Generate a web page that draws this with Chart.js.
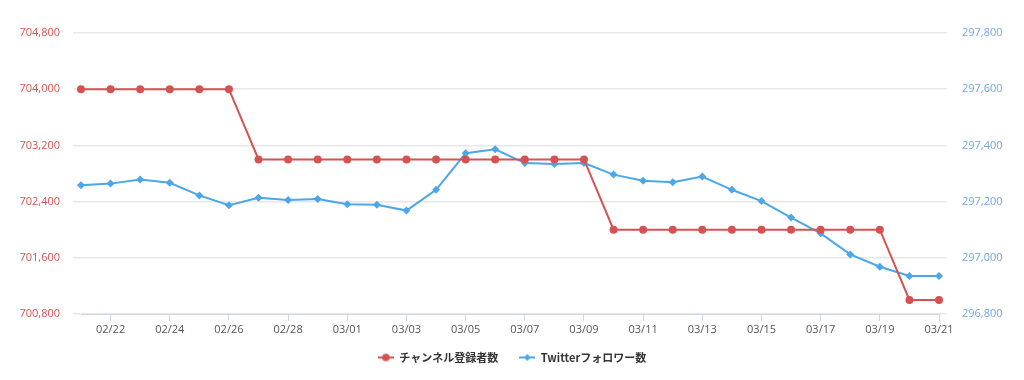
<!DOCTYPE html>
<html>
<head>
<meta charset="utf-8">
<script src="https://cdn.jsdelivr.net/npm/chart.js@4/dist/chart.umd.min.js"></script>
<style>
  html, body { margin: 0; padding: 0; background: #fff; }
  #wrap { width: 1024px; height: 380px; }
</style>
</head>
<body>
<div id="wrap"><canvas id="subsChart"></canvas></div>
<script>
// dates 02/21 - 03/21 (leap year)
const labels = [
    '02/21','02/22','02/23','02/24','02/25','02/26','02/27','02/28','02/29',
    '03/01','03/02','03/03','03/04','03/05','03/06','03/07','03/08','03/09','03/10',
    '03/11','03/12','03/13','03/14','03/15','03/16','03/17','03/18','03/19','03/20','03/21'
];

// channel subscribers (left axis)
const subscribers = [
    704000, 704000, 704000, 704000, 704000, 704000,
    703000, 703000, 703000, 703000, 703000, 703000,
    703000, 703000, 703000, 703000, 703000, 703000,
    702000, 702000, 702000, 702000, 702000, 702000,
    702000, 702000, 702000, 702000,
    701000, 701000
];

// twitter followers (right axis)
const followers = [
    297258, 297264, 297279, 297267, 297222, 297187, 297214, 297206, 297209, 297191,
    297189, 297168, 297242, 297372, 297386, 297337, 297334, 297337, 297296, 297274,
    297269, 297289, 297242, 297202, 297143, 297087, 297012, 296968, 296935, 296935
];

const leftTicks = [700800, 701600, 702400, 703200, 704000, 704800];
const rightTicks = [296800, 297000, 297200, 297400, 297600, 297800];

const RED = '#d65252';
const BLUE = '#4ba6ea';

// legend symbol: short line with marker in the middle
function legendSymbol(color, diamond) {
    const c = document.createElement('canvas');
    c.width = 16; c.height = 10;
    const g = c.getContext('2d');
    g.strokeStyle = color;
    g.lineWidth = 2;
    g.beginPath(); g.moveTo(0, 5); g.lineTo(16, 5); g.stroke();
    g.fillStyle = color;
    g.beginPath();
    if (diamond) {
        g.moveTo(8, 1.5); g.lineTo(11.5, 5); g.lineTo(8, 8.5); g.lineTo(4.5, 5);
    } else {
        g.arc(8, 5, 3.8, 0, Math.PI * 2);
    }
    g.fill();
    return c;
}

const fmt = v => v.toLocaleString('en-US');

const ctx = document.getElementById('subsChart').getContext('2d');
const chart = new Chart(ctx, {
    type: 'line',
    data: {
        labels: labels,
        datasets: [
            {
                label: 'チャンネル登録者数',
                data: subscribers,
                yAxisID: 'y',
                borderColor: RED,
                backgroundColor: RED,
                borderWidth: 2,
                pointStyle: 'circle',
                pointRadius: 4,
                pointBorderWidth: 0,
                pointHoverRadius: 4,
                tension: 0,
                fill: false
            },
            {
                label: 'Twitterフォロワー数',
                data: followers,
                yAxisID: 'y1',
                borderColor: BLUE,
                backgroundColor: BLUE,
                borderWidth: 2,
                pointStyle: 'rectRot',
                pointRadius: 4,
                pointBorderWidth: 0,
                pointHoverRadius: 4,
                tension: 0,
                fill: false
            }
        ]
    },
    options: {
        responsive: true,
        maintainAspectRatio: false,
        animation: false,
        layout: {
            padding: { top: 33, left: 0, right: 0, bottom: 7 }
        },
        scales: {
            x: {
                offset: false,
                border: { display: true, color: '#ccd6eb', width: 1 },
                grid: {
                    drawOnChartArea: false,
                    drawTicks: true,
                    tickLength: 7,
                    color: c => (c.index % 2 === 1 ? '#ccd6eb' : 'rgba(0,0,0,0)')
                },
                ticks: {
                    autoSkip: false,
                    maxRotation: 0,
                    padding: 2,
                    color: '#555',
                    font: { family: 'Open Sans', size: 11 },
                    callback: function (val, idx) {
                        return idx % 2 === 1 ? labels[idx] : '';
                    }
                },
                afterFit: s => { s.height = 28; }
            },
            y: {
                position: 'left',
                min: 700800,
                max: 704800,
                border: { display: false },
                grid: { color: '#e8e8e8', lineWidth: 1.5, tickLength: 8 },
                afterBuildTicks: s => { s.ticks = leftTicks.map(v => ({ value: v })); },
                ticks: {
                    padding: 13,
                    color: RED,
                    font: { family: 'Open Sans', size: 11 },
                    callback: v => fmt(v)
                },
                afterFit: s => { s.width = 81; }
            },
            y1: {
                position: 'right',
                min: 296800,
                max: 297800,
                border: { display: false },
                grid: { drawOnChartArea: false, color: '#e8e8e8', lineWidth: 1.5, tickLength: 8 },
                afterBuildTicks: s => { s.ticks = rightTicks.map(v => ({ value: v })); },
                ticks: {
                    padding: 15,
                    color: '#6fa8e2',
                    font: { family: 'Open Sans', size: 11 },
                    callback: v => fmt(v)
                },
                afterFit: s => { s.width = 85; }
            }
        },
        plugins: {
            legend: {
                position: 'bottom',
                labels: {
                    color: '#333',
                    font: { family: 'Noto Sans CJK JP', size: 11, weight: 'bold' },
                    usePointStyle: true,
                    pointStyleWidth: 16,
                    padding: 10,
                    generateLabels: ch => ch.data.datasets.map((ds, i) => ({
                        // ideographic space widens the gap between the two items
                        text: i === 0 ? ds.label + '\u3000' : ds.label,
                        fillStyle: ds.borderColor,
                        strokeStyle: ds.borderColor,
                        fontColor: '#333',
                        lineWidth: 0,
                        hidden: false,
                        datasetIndex: i,
                        pointStyle: legendSymbol(ds.borderColor, i === 1)
                    }))
                }
            },
            tooltip: { enabled: false }
        }
    }
});
</script>
</body>
</html>
